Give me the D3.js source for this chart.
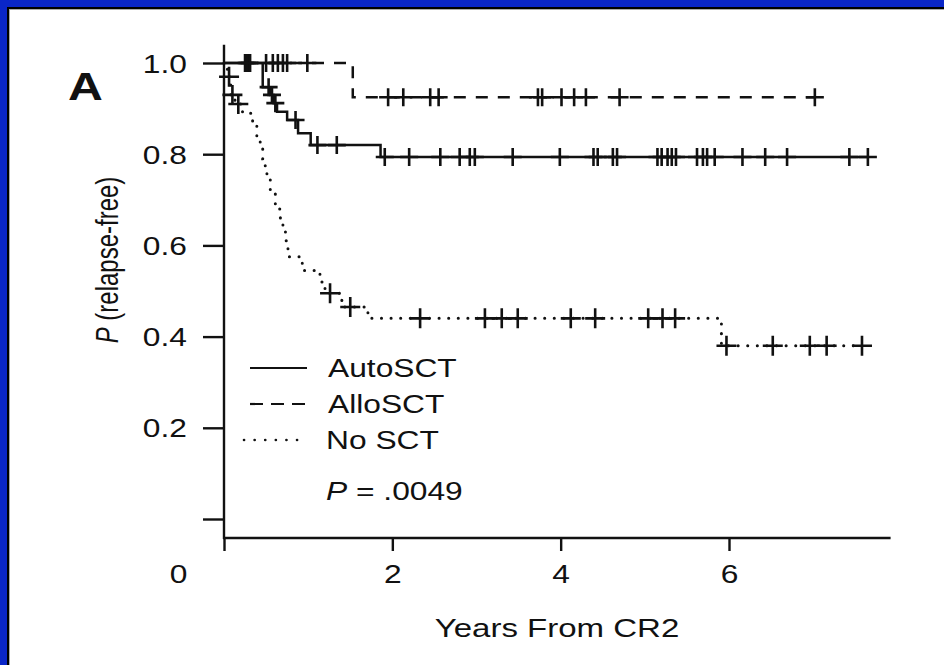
<!DOCTYPE html>
<html>
<head>
<meta charset="utf-8">
<script src="https://cdn.jsdelivr.net/npm/d3@7"></script>
<style>
  body { margin: 0; background: #fff; }
</style>
</head>
<body>
<svg id="chart" width="944" height="665"></svg>
<script>
// AutoSCT: step times (years) and survival after each step, censored times
const autoTimes = [0, 0.46, 0.55, 0.59, 0.63, 0.75, 0.88, 1.03, 1.86];
const autoSurv = [1, 0.947, 0.93, 0.912, 0.893, 0.875, 0.846, 0.82, 0.794];
const autoCensor = [0.25, 0.29, 0.53, 0.57, 0.61, 0.85, 1.11, 1.34, 1.91, 2.20, 2.57, 2.80, 2.92, 2.98,
  3.43, 3.99, 4.39, 4.44, 4.62, 4.67, 5.15, 5.20, 5.27, 5.32, 5.37, 5.62, 5.69, 5.74, 5.83,
  6.16, 6.43, 6.69, 7.43, 7.65];

// AlloSCT
const alloTimes = [0, 1.53];
const alloSurv = [1, 0.925];
const alloCensor = [0.27, 0.31, 0.50, 0.58, 0.64, 0.70, 0.75, 0.99, 1.95, 2.13, 2.45, 2.55,
  3.73, 3.78, 4.01, 4.16, 4.30, 4.70, 7.02];

// No SCT
const noTimes = [0, 0.04, 0.08, 0.13, 0.22, 0.34, 0.39, 0.43, 0.46, 0.49, 0.51, 0.55, 0.61,
  0.67, 0.70, 0.73, 0.74, 0.76, 0.93, 1.14, 1.20, 1.40, 1.71, 5.91];
const noSurv = [1, 0.97, 0.93, 0.91, 0.89, 0.87, 0.835, 0.82, 0.79, 0.77, 0.75, 0.715, 0.68,
  0.65, 0.635, 0.61, 0.595, 0.575, 0.545, 0.52, 0.495, 0.465, 0.44, 0.38];
const noCensor = [0.06, 0.10, 0.17, 1.26, 1.50, 2.33, 3.10, 3.30, 3.49, 4.12, 4.41, 5.04, 5.21, 5.36,
  5.97, 6.52, 6.96, 7.16, 7.58];

const seriesNames = ["AutoSCT", "AlloSCT", "No SCT"];
const yTicks = [0, 0.2, 0.4, 0.6, 0.8, 1.0];
const xTicks = [0, 2, 4, 6];
const pValueText = ".0049";

const FONT = '"Liberation Sans", Arial, Helvetica, sans-serif';
const SX = 1.27; // the scan is stretched horizontally
const INK = "#111";

const svg = d3.select("#chart");

// frame
svg.append("rect").attr("width", 944).attr("height", 665).attr("fill", "#fff");
svg.append("rect").attr("width", 944).attr("height", 7).attr("fill", "#0a26c8");
svg.append("rect").attr("width", 7).attr("height", 665).attr("fill", "#0a26c8");
svg.append("rect").attr("x", 7).attr("y", 7).attr("width", 937).attr("height", 2).attr("fill", "#000");
svg.append("rect").attr("x", 7).attr("y", 7).attr("width", 2).attr("height", 658).attr("fill", "#000");
svg.append("rect").attr("x", 9).attr("y", 9).attr("width", 935).attr("height", 1).attr("fill", "#aaa");
svg.append("rect").attr("x", 9).attr("y", 9).attr("width", 1).attr("height", 656).attr("fill", "#aaa");

const x = d3.scaleLinear().domain([0, 6]).range([224, 729]);
const y = d3.scaleLinear().domain([0, 1]).range([519, 63]);
const xAxisY = 538;

// y axis
const gy = svg.append("g")
  .attr("transform", `translate(${x(0)},0)`)
  .call(d3.axisLeft(y).tickValues(yTicks).tickSize(21)
    .tickFormat(d => d === 0 ? "" : d.toFixed(1)))
  .call(g => g.select(".domain").remove());
gy.selectAll(".tick line").attr("stroke", INK).attr("stroke-width", 2.4);
gy.selectAll(".tick text")
  .attr("x", 0).attr("dy", "0.36em")
  .attr("transform", `translate(-37,0) scale(${SX},1)`)
  .attr("font-family", FONT).attr("font-size", 25).attr("fill", INK);
svg.append("line")
  .attr("x1", x(0)).attr("x2", x(0))
  .attr("y1", y(1.04)).attr("y2", xAxisY + 1)
  .attr("stroke", INK).attr("stroke-width", 2.4);

// x axis
const gx = svg.append("g")
  .attr("transform", `translate(0,${xAxisY})`)
  .call(d3.axisBottom(x).tickValues(xTicks).tickSize(13).tickFormat(d3.format("d")))
  .call(g => g.select(".domain").remove());
gx.selectAll(".tick line").attr("stroke", INK).attr("stroke-width", 2.4);
gx.selectAll(".tick text")
  .attr("y", 0).attr("dy", 0)
  .attr("transform", d => `translate(${d === 0 ? -46 : 0},45) scale(${SX},1)`)
  .attr("font-family", FONT).attr("font-size", 25).attr("fill", INK);
svg.append("line")
  .attr("x1", x(0) - 1).attr("x2", x(7.92))
  .attr("y1", xAxisY).attr("y2", xAxisY)
  .attr("stroke", INK).attr("stroke-width", 2.4);

// curves
const groups = [
  { times: autoTimes, surv: autoSurv, censor: autoCensor, dash: null, width: 2.5, cap: "butt", arm: 9 },
  { times: alloTimes, surv: alloSurv, censor: alloCensor, dash: "12 10", width: 2.5, cap: "butt", arm: 9 },
  { times: noTimes, surv: noSurv, censor: noCensor, dash: "0.1 9.5", width: 3, cap: "round", arm: 10 }
];

const survAt = (g, t) => g.surv[d3.bisectRight(g.times, t) - 1];
const line = d3.line().x(d => x(d[0])).y(d => y(d[1])).curve(d3.curveStepAfter);

groups.forEach(g => {
  const pts = g.times.map((t, i) => [t, g.surv[i]]);
  const tEnd = d3.max(g.censor);
  pts.push([tEnd, survAt(g, tEnd)]);
  svg.append("path")
    .attr("d", line(pts))
    .attr("fill", "none")
    .attr("stroke", INK)
    .attr("stroke-width", g.width)
    .attr("stroke-linecap", g.cap)
    .attr("stroke-dasharray", g.dash);

  svg.append("g").selectAll("path")
    .data(g.censor)
    .join("path")
    .attr("d", t => {
      const cx = x(t), cy = y(survAt(g, t)), a = g.arm;
      return `M${cx - a},${cy}H${cx + a}M${cx},${cy - a}V${cy + a}`;
    })
    .attr("fill", "none")
    .attr("stroke", INK)
    .attr("stroke-width", 2.6);
});

// legend
const legendY = [368, 404, 440];
const lg = svg.append("g");
seriesNames.forEach((name, i) => {
  const g = groups[i];
  lg.append("line")
    .attr("x1", i === 2 ? 244 : 250).attr("x2", i === 2 ? 306 : 307)
    .attr("y1", legendY[i]).attr("y2", legendY[i])
    .attr("stroke", INK)
    .attr("stroke-width", i === 2 ? 2.6 : 2.2)
    .attr("stroke-linecap", g.cap)
    .attr("stroke-dasharray", i === 1 ? "13 8" : (i === 2 ? "0.1 10.5" : null));
  lg.append("text")
    .attr("transform", `translate(${i === 2 ? 326 : 328},${legendY[i] + 9}) scale(${SX},1)`)
    .attr("font-family", FONT).attr("font-size", 25).attr("fill", INK)
    .text(name);
});

const pt = svg.append("text")
  .attr("transform", `translate(326,500) scale(${SX},1)`)
  .attr("font-family", FONT).attr("font-size", 25).attr("fill", INK);
pt.append("tspan").attr("font-style", "italic").text("P");
pt.append("tspan").text(" = " + pValueText);

// panel letter
svg.append("text")
  .attr("transform", `translate(68,100) scale(${SX},1)`)
  .attr("font-family", FONT).attr("font-size", 38).attr("font-weight", "bold").attr("fill", INK)
  .text("A");

// axis titles
svg.append("text")
  .attr("transform", `translate(557,637) scale(${SX},1)`)
  .attr("text-anchor", "middle")
  .attr("font-family", FONT).attr("font-size", 26).attr("fill", INK)
  .text("Years From CR2");

const yl = svg.append("text")
  .attr("transform", `translate(118,260) scale(${SX},1) rotate(-90)`)
  .attr("text-anchor", "middle")
  .attr("font-family", FONT).attr("font-size", 24).attr("fill", INK);
yl.append("tspan").attr("font-style", "italic").text("P");
yl.append("tspan").text(" (relapse-free)");
</script>
</body>
</html>
